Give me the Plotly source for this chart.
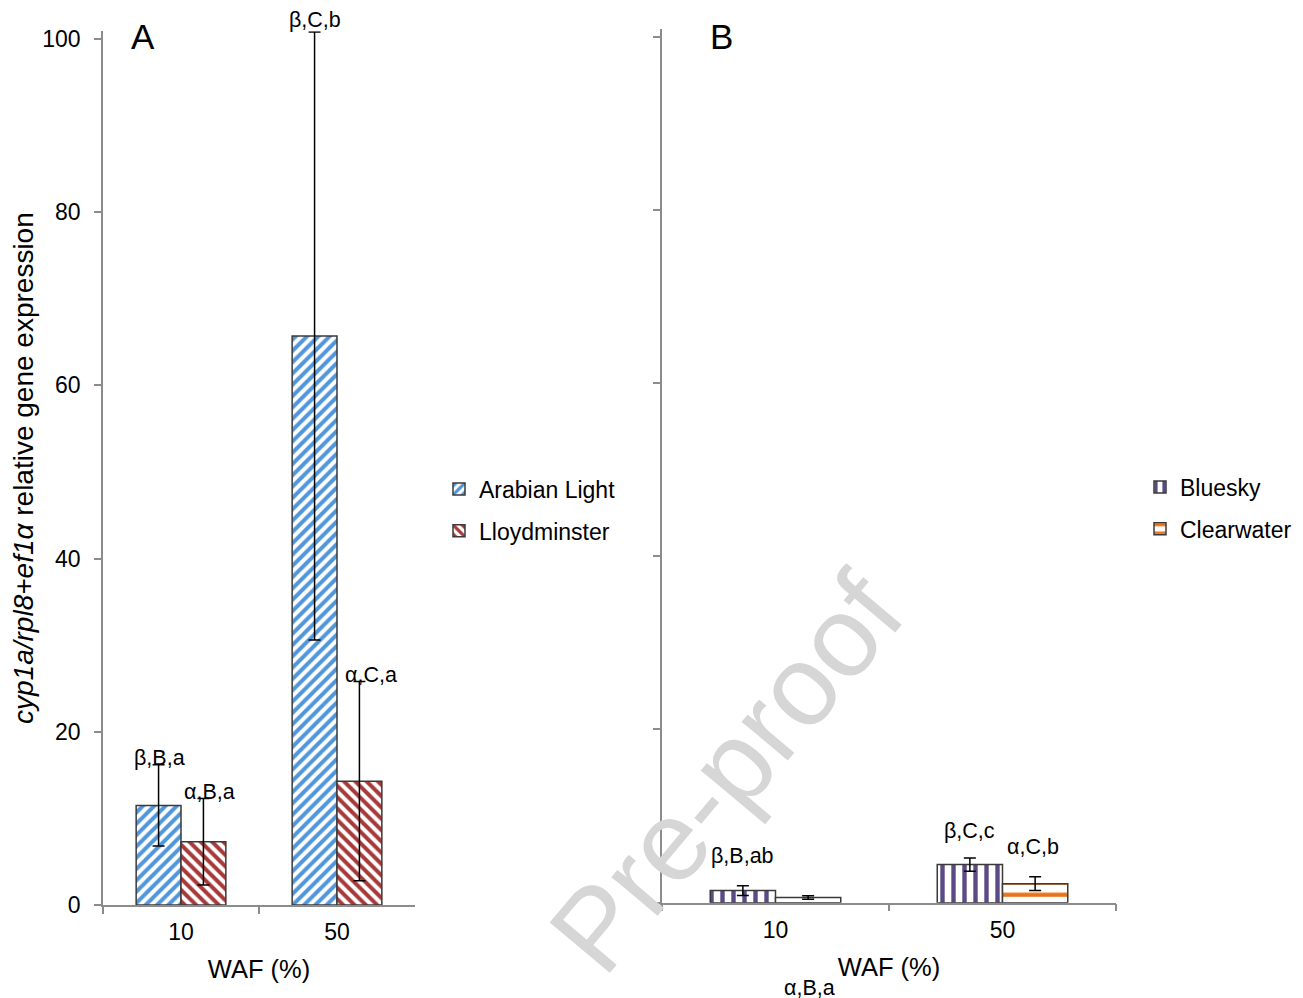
import plotly.graph_objects as go

# ---------------- data ----------------
waf = ["10", "50"]

arabian = [11.5, 65.7]
arabian_err = [4.7, 35.1]
lloyd = [7.3, 14.3]
lloyd_err = [5.0, 11.5]

bluesky = [1.4, 4.4]
bluesky_err = [0.56, 0.77]
clearwater = [0.6, 2.2]
clearwater_err = [0.2, 0.8]

labels_A = ["β,B,a", "α,B,a", "β,C,b", "α,C,a"]
labels_B = ["β,B,ab", "α,B,a", "β,C,c", "α,C,b"]
yticks = [0, 20, 40, 60, 80, 100]
y_range = [0, 100.9]

# label anchor positions (category index, value)
lab_pos_A = [(-0.14, 17.0), (0.18, 13.1), (0.86, 102.2), (1.22, 26.6)]
lab_pos_B = [(-0.145, 5.4), (0.15, -9.8), (0.855, 8.3), (1.135, 6.45)]

W, H = 1303, 998
OFF = 8  # page body margin
PX_PER_UNIT = 8.66  # vertical pixels per data unit


def px(xp):
    return (xp - OFF) / W


def py(yp):
    return 1 - (yp - OFF) / H


FONT = "Liberation Sans, Arial, sans-serif"
AX = "#8c8c8c"
OUT = "#3a3a3a"


def bar(name, x, y, err, color, shape, size, sol, xa, ya, legend):
    return go.Bar(
        name=name, x=x, y=y, xaxis=xa, yaxis=ya, legend=legend,
        legendgroup=name, cliponaxis=False,
        marker=dict(color="white",
                    line=dict(color=OUT, width=1.5),
                    pattern=dict(shape=shape, fgcolor=color, bgcolor="white",
                                 size=size, solidity=sol, fillmode="replace")),
        error_y=dict(type="data", array=err, visible=True, color="black",
                     thickness=1.5, width=6),
    )


fig = go.Figure()
fig.add_trace(bar("Arabian Light", waf, arabian, arabian_err, "#5096dc", "/", 8, 0.5, "x", "y", "legend"))
fig.add_trace(bar("Lloydminster", waf, lloyd, lloyd_err, "#a63a3a", "\\", 8, 0.5, "x", "y", "legend"))
fig.add_trace(bar("Bluesky", waf, bluesky, bluesky_err, "#5b4a86", "|", 11, 0.4, "x2", "y2", "legend2"))
fig.add_trace(bar("Clearwater", waf, clearwater, clearwater_err, "#e8731a", "-", 12.11, 0.35, "x2", "y2", "legend2"))


def label(t, cx, cy, xr, yr):
    # anchor inside the axis range (so plotly does not hide it), shift in pixels
    cyc = min(max(cy, y_range[0]), y_range[1])
    return dict(text=t, x=cx, y=cyc, xref=xr, yref=yr, showarrow=False,
                xanchor="center", yanchor="middle",
                yshift=(cy - cyc) * PX_PER_UNIT,
                font=dict(size=21.5, color="black", family=FONT))


ann = []
for t, (cx, cy) in zip(labels_A, lab_pos_A):
    ann.append(label(t, cx, cy, "x", "y"))
for t, (cx, cy) in zip(labels_B, lab_pos_B):
    ann.append(label(t, cx, cy, "x2", "y2"))
ann.append(dict(text="A", x=px(143), y=py(36), xref="paper", yref="paper",
                xanchor="center", yanchor="middle",
                showarrow=False, font=dict(size=35, color="black", family=FONT)))
ann.append(dict(text="B", x=px(722), y=py(36), xref="paper", yref="paper",
                xanchor="center", yanchor="middle",
                showarrow=False, font=dict(size=35, color="black", family=FONT)))
ann.append(dict(text="Pre-proof", x=px(726), y=py(772), xref="paper", yref="paper",
                xanchor="center", yanchor="middle",
                showarrow=False, textangle=-50,
                font=dict(size=114, color="#d6d6d6", family=FONT)))

xax = dict(type="category", showline=True, linecolor=AX, linewidth=1.5,
           ticks="outside", tickson="boundaries", ticklen=7, tickcolor=AX, tickwidth=1.5,
           ticklabelstandoff=6,
           tickfont=dict(size=23, color="black", family=FONT), showgrid=False, zeroline=False,
           title=dict(text="WAF (%)", font=dict(size=25.5, color="black", family=FONT), standoff=16))
yax = dict(range=y_range, tickvals=yticks, showline=True, linecolor=AX, linewidth=1.5,
           ticks="outside", ticklen=7, tickcolor=AX, tickwidth=1.5, showgrid=False, zeroline=False,
           ticklabelstandoff=9,
           tickfont=dict(size=23, color="black", family=FONT))

top_A = 905 - y_range[1] * PX_PER_UNIT
top_B = 902.7 - y_range[1] * PX_PER_UNIT

fig.update_layout(
    width=W, height=H,
    margin=dict(l=0, r=0, t=0, b=0, autoexpand=False),
    paper_bgcolor="white", plot_bgcolor="white",
    barmode="group", bargap=0.425, bargroupgap=0,
    font=dict(family=FONT, color="black"),
    xaxis=dict(xax, domain=[px(103), px(415)], anchor="y"),
    yaxis=dict(yax, domain=[py(905), py(top_A)], anchor="x",
               title=dict(text="<i>cyp1a/rpl8+ef1α</i> relative gene expression",
                          font=dict(size=28, color="black", family=FONT), standoff=1)),
    xaxis2=dict(xax, domain=[px(662), px(1116)], anchor="y2"),
    yaxis2=dict(yax, domain=[py(902.7), py(top_B)], anchor="x2",
                showticklabels=False),
    legend=dict(x=px(439), y=py(510), xanchor="left", yanchor="middle",
                font=dict(size=23, color="black", family=FONT), tracegroupgap=9,
                bgcolor="rgba(0,0,0,0)"),
    legend2=dict(x=px(1140), y=py(508), xanchor="left", yanchor="middle",
                 font=dict(size=23, color="black", family=FONT), tracegroupgap=9,
                 bgcolor="rgba(0,0,0,0)"),
    annotations=ann,
)

fig.write_html("out.html")
